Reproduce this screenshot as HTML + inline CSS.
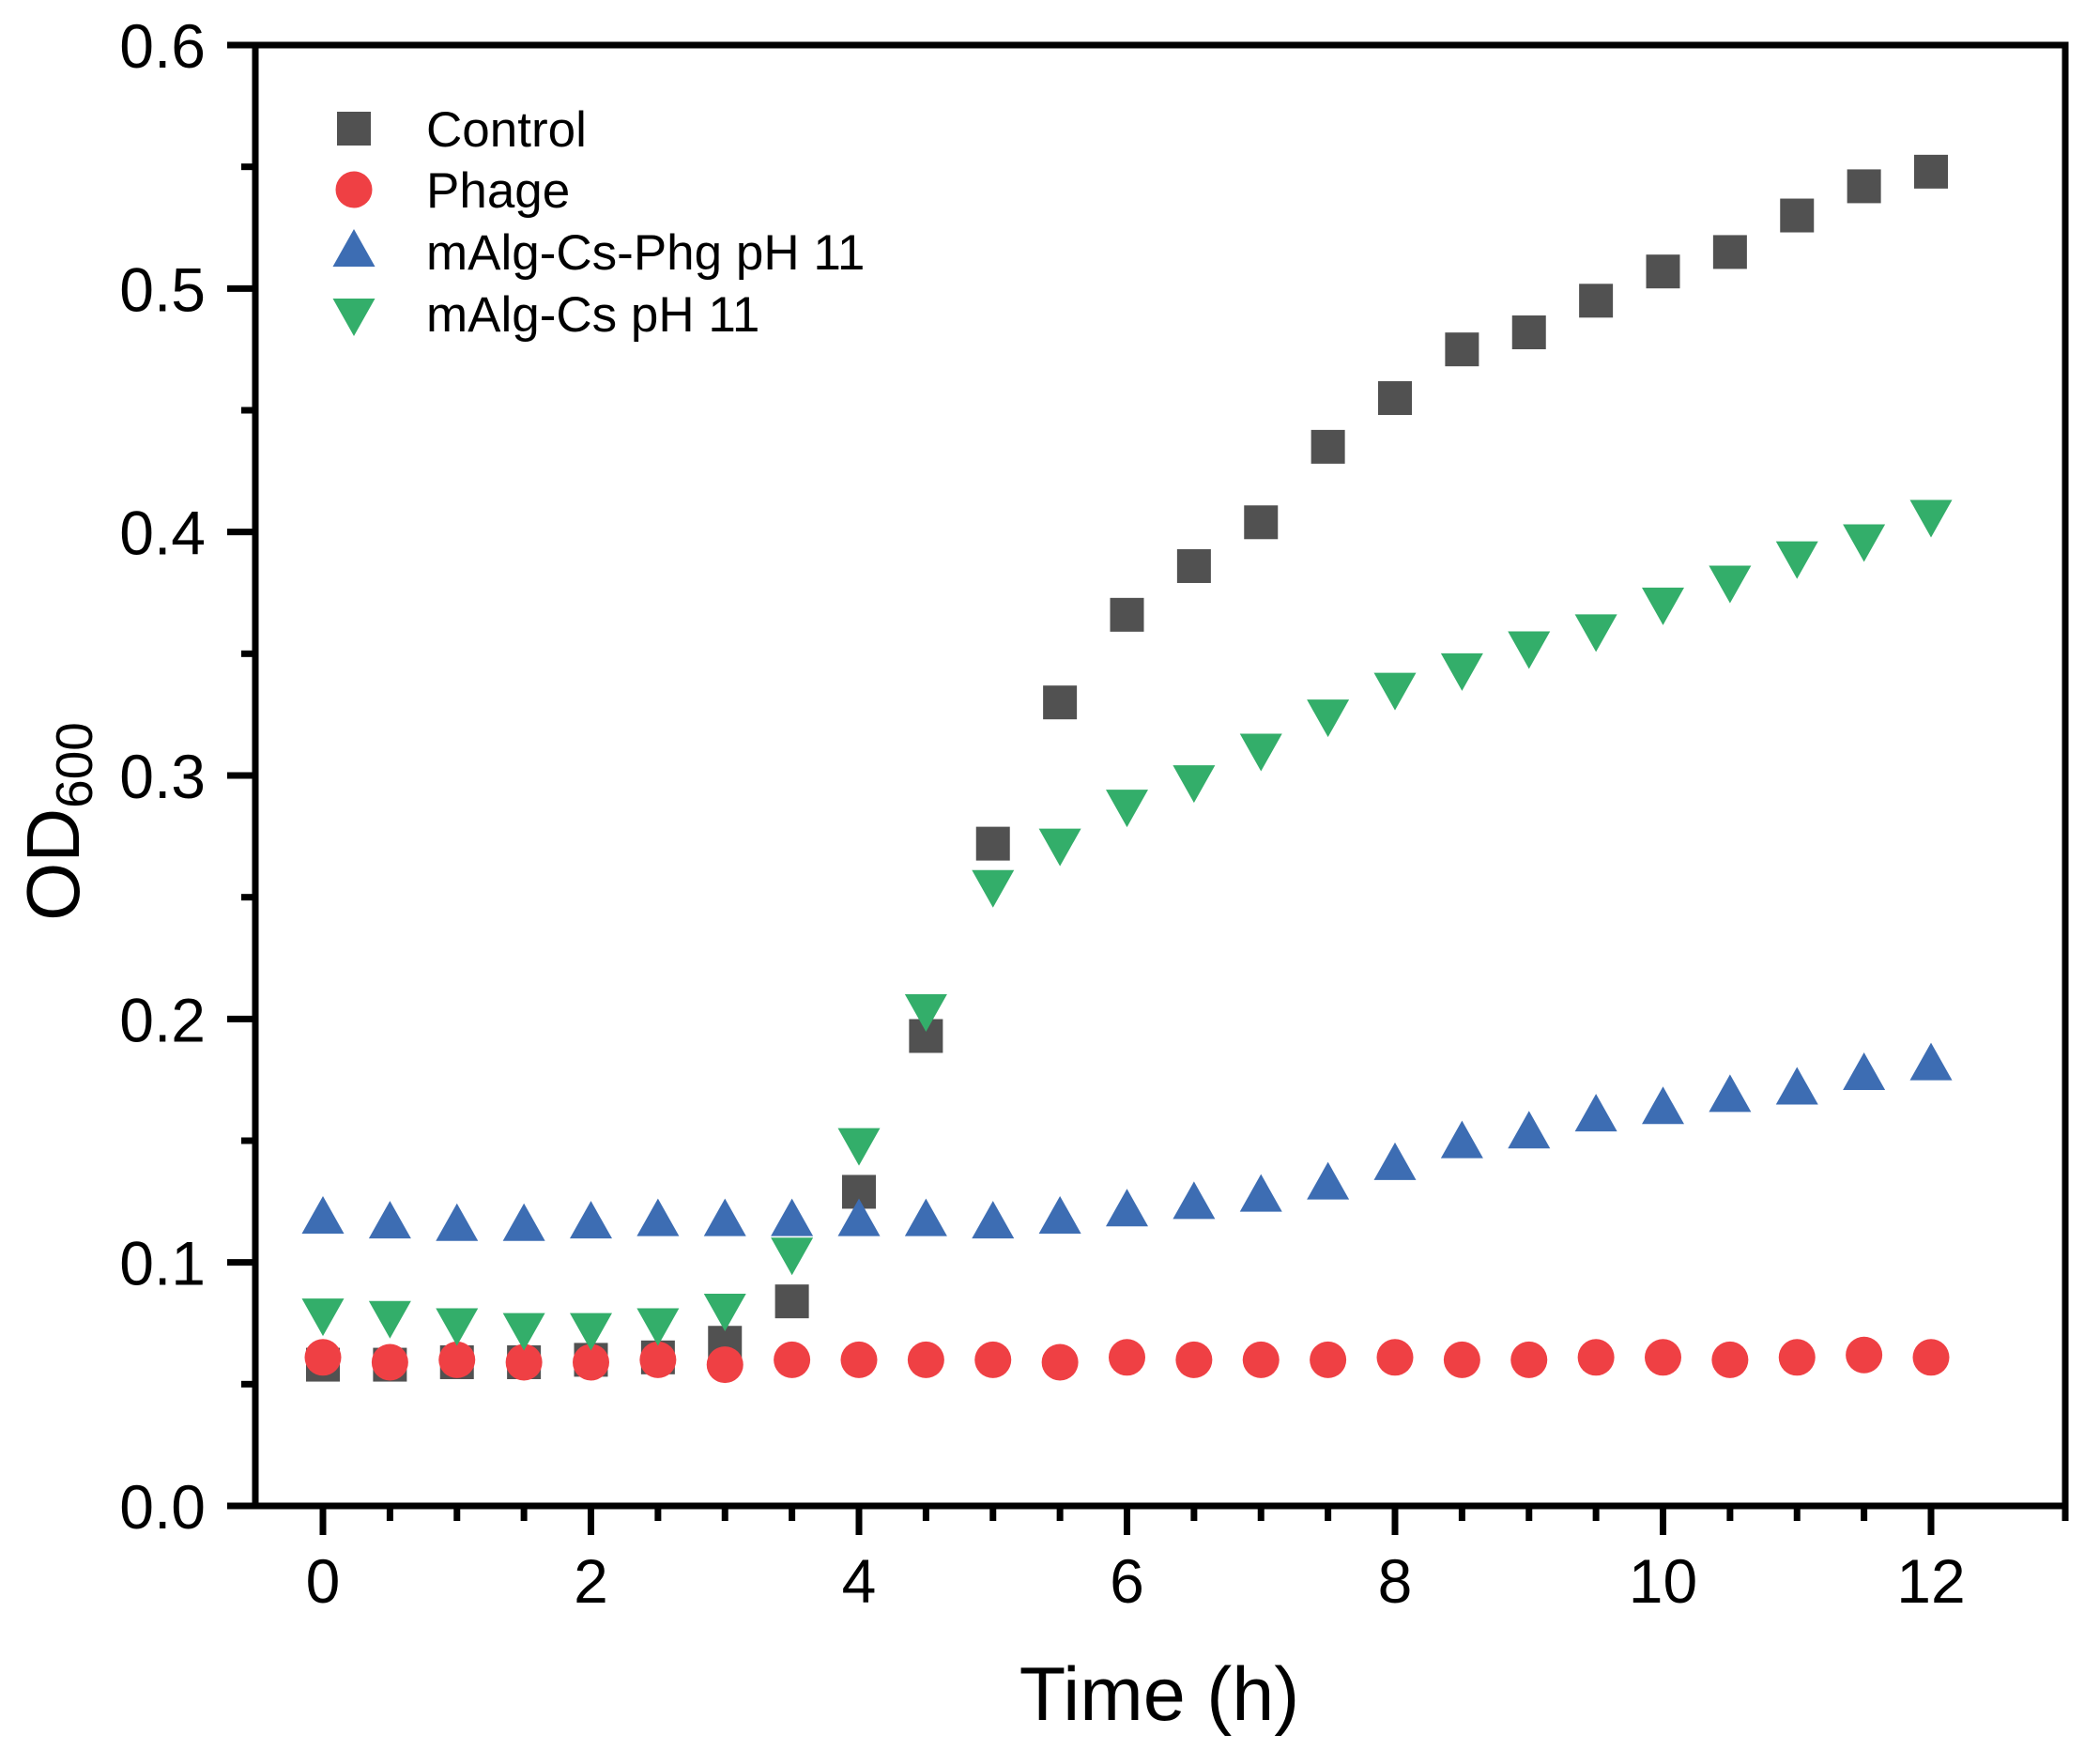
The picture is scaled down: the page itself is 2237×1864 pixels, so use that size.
<!DOCTYPE html>
<html><head><meta charset="utf-8"><style>
html,body{margin:0;padding:0;background:#fff;}
svg{display:block;font-family:"Liberation Sans",Arial,sans-serif;}
</style></head><body>
<svg id="chart" width="2237" height="1864" viewBox="0 0 2237 1864" xmlns="http://www.w3.org/2000/svg">
<rect x="0" y="0" width="2237" height="1864" fill="#fff"/>
<g id="marks"></g>
<g id="axes"></g>
<g id="legend"></g>
<text x="1235" y="1832" font-size="81" text-anchor="middle">Time (h)</text>
<text transform="translate(84,875) rotate(-90)" font-size="80" text-anchor="middle">OD<tspan font-size="55" dy="14">600</tspan></text>
</svg>
<script>
const times = [0,0.5,1,1.5,2,2.5,3,3.5,4,4.5,5,5.5,6,6.5,7,7.5,8,8.5,9,9.5,10,10.5,11,11.5,12];
const controlValues = [0.058,0.058,0.059,0.059,0.060,0.061,0.067,0.084,0.129,0.193,0.272,0.330,0.366,0.386,0.404,0.435,0.455,0.475,0.482,0.495,0.507,0.515,0.530,0.542,0.548];
const phageValues = [0.061,0.059,0.060,0.059,0.059,0.060,0.058,0.060,0.060,0.060,0.060,0.059,0.061,0.060,0.060,0.060,0.061,0.060,0.060,0.061,0.061,0.060,0.061,0.062,0.061];
const phgValues = [0.118,0.116,0.115,0.115,0.116,0.117,0.117,0.117,0.117,0.117,0.116,0.118,0.121,0.124,0.127,0.132,0.140,0.149,0.153,0.160,0.163,0.168,0.171,0.177,0.181];
const csValues = [0.079,0.078,0.075,0.073,0.073,0.075,0.081,0.104,0.149,0.204,0.255,0.272,0.288,0.298,0.311,0.325,0.336,0.344,0.353,0.360,0.371,0.380,0.390,0.397,0.407];
const seriesNames = ["Control","Phage","mAlg-Cs-Phg pH 11","mAlg-Cs pH 11"];
const xTickLabels = ["0","2","4","6","8","10","12"];
const yTickLabels = ["0.0","0.1","0.2","0.3","0.4","0.5","0.6"];

const NS="http://www.w3.org/2000/svg";
const X0=344, XU=142.75, YB=1604, YT=48, LEFT=272, RIGHT=2200;
const xs=v=>X0+v*XU;
const ys=v=>YB-(v/0.6)*(YB-YT);
function mk(tag,attrs,parent){const e=document.createElementNS(NS,tag);for(const k in attrs)e.setAttribute(k,attrs[k]);parent.appendChild(e);return e;}
const axes=document.getElementById('axes'), marks=document.getElementById('marks'), legend=document.getElementById('legend');

const frame=mk('rect',{x:LEFT,y:YT,width:RIGHT-LEFT,height:YB-YT,fill:'none',stroke:'#000','stroke-width':7},axes);


for(let i=0;i<=12;i++){
  const v=i*0.05, y=ys(v), major=i%2===0;
  const t=mk('line',{x1:LEFT-(major?30:15),x2:LEFT,y1:y,y2:y,stroke:'#000','stroke-width':7},axes);
  
  
}
yTickLabels.forEach((s,i)=>{
  const t=mk('text',{x:219,y:ys(i*0.1)+24,'font-size':66,'text-anchor':'end'},axes);
  t.textContent=s;
  
  
});
for(let i=0;i<=24;i++){
  const v=i*0.5, x=xs(v);
  const major=i%4===0;
  const t=mk('line',{x1:x,x2:x,y1:YB,y2:YB+(major?31:16),stroke:'#000','stroke-width':7},axes);
  
  
}
const xr=mk('line',{x1:RIGHT,x2:RIGHT,y1:YB,y2:YB+16,stroke:'#000','stroke-width':7},axes);


xTickLabels.forEach((s,i)=>{
  const t=mk('text',{x:xs(i*2),y:1707,'font-size':66,'text-anchor':'middle'},axes);
  t.textContent=s;
  
  
});

function marker(type,cx,cy,parent){
  let e;
  if(type==='sq') e=mk('rect',{x:cx-18,y:cy-18,width:36,height:36,fill:'#515151'},parent);
  else if(type==='ci') e=mk('circle',{cx:cx,cy:cy,r:19.5,fill:'#ef4044'},parent);
  else if(type==='up') e=mk('polygon',{points:`${cx},${cy-24} ${cx+22.5},${cy+16} ${cx-22.5},${cy+16}`,fill:'#3d6db3'},parent);
  else e=mk('polygon',{points:`${cx-22.5},${cy-16} ${cx+22.5},${cy-16} ${cx},${cy+24}`,fill:'#33ae6a'},parent);
  return e;
}
const series=[[controlValues,'sq','control-point'],[phageValues,'ci','phage-point'],[phgValues,'up','malg-cs-phg-point'],[csValues,'dn','malg-cs-point']];
series.forEach(([vals,type,name])=>{
  vals.forEach((v,i)=>{
    const e=marker(type,xs(times[i]),ys(v),marks);
    
    
  });
});
const lys=[137,202,268,334];
series.forEach(([vals,type],i)=>{
  const e=marker(type,377,lys[i],legend);
  
  
  const t=mk('text',{x:454,y:lys[i]+19,'font-size':53},legend);
  t.textContent=seriesNames[i];
  
  
});
</script>
</body></html>
